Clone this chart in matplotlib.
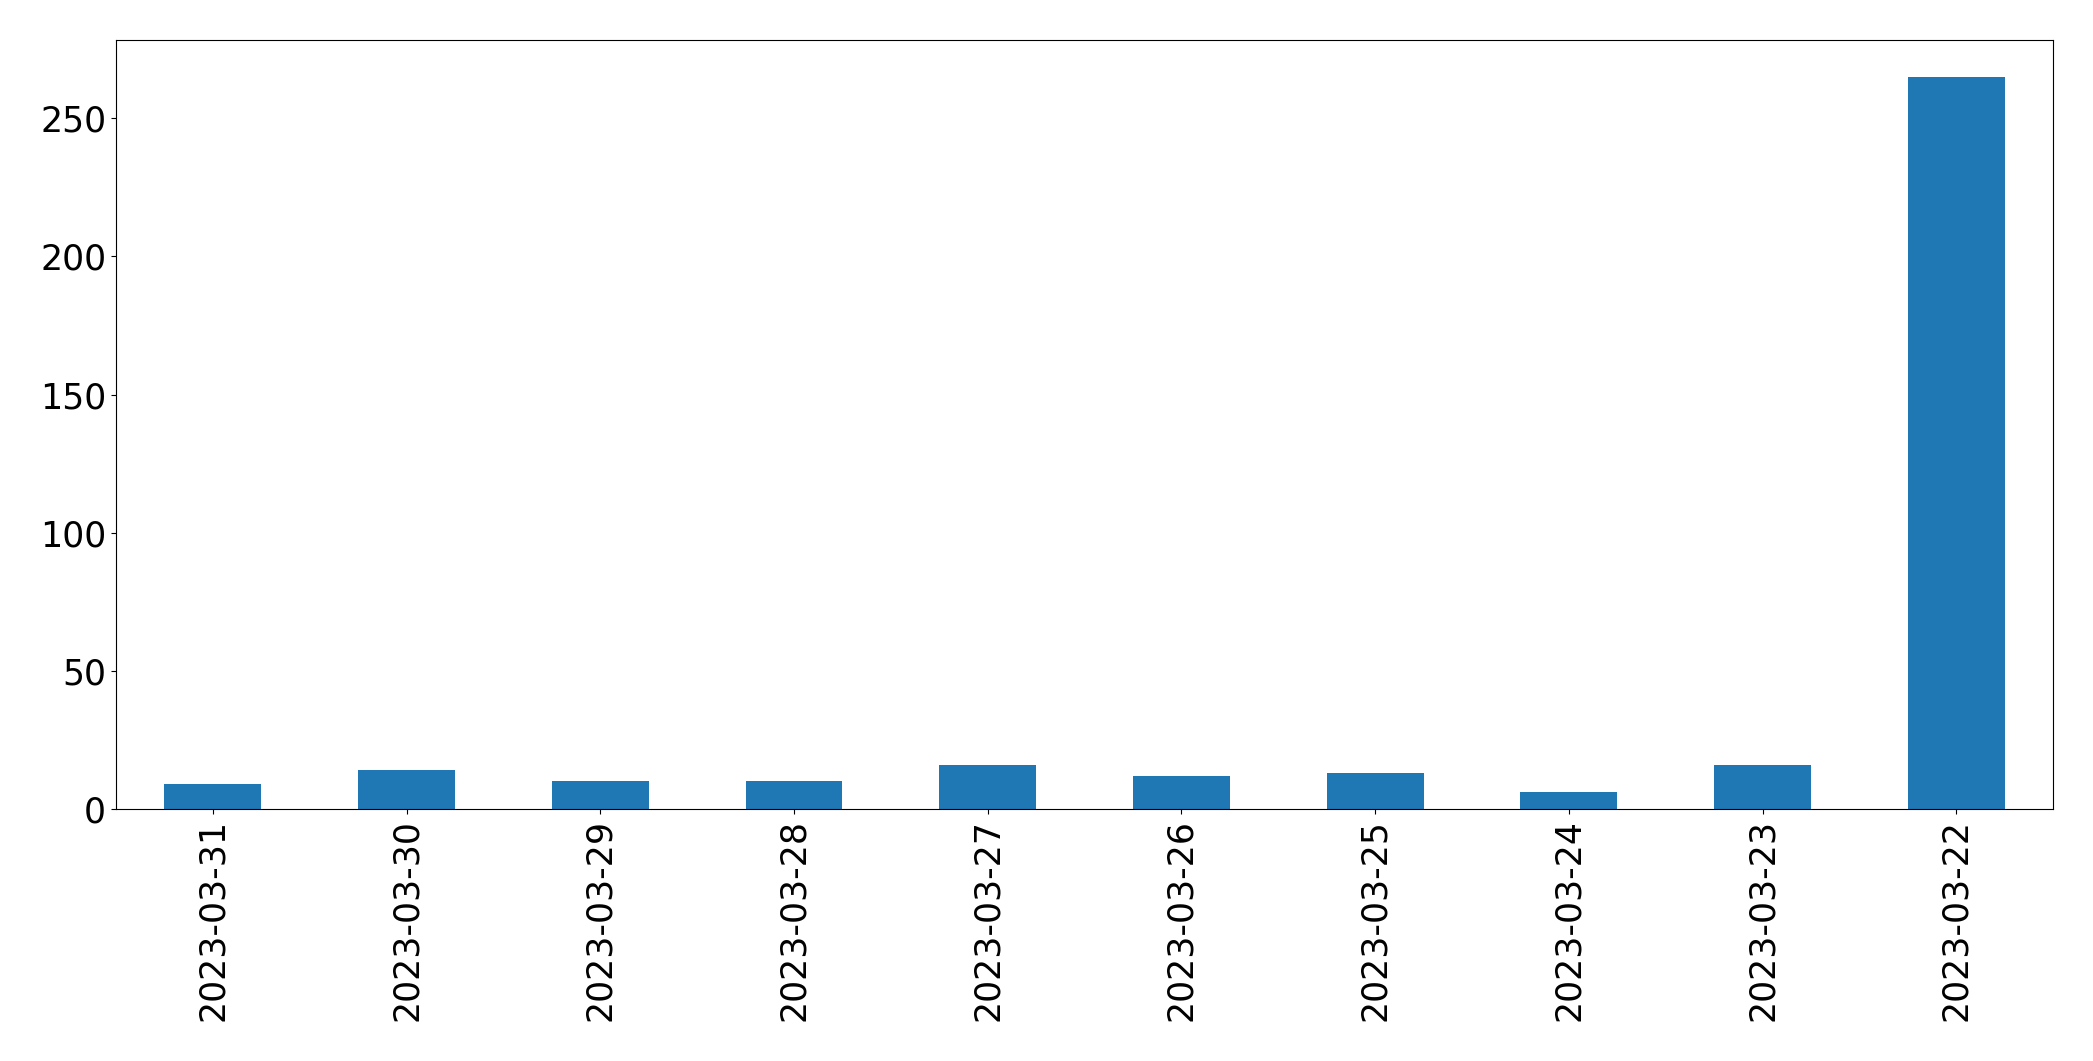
import numpy as np
import matplotlib
matplotlib.use("Agg")
import matplotlib.pyplot as plt

dates = ["2023-03-31", "2023-03-30", "2023-03-29", "2023-03-28", "2023-03-27",
         "2023-03-26", "2023-03-25", "2023-03-24", "2023-03-23", "2023-03-22"]
counts = [9, 14, 10, 10, 16, 12, 13, 6, 16, 265]

fig, ax = plt.subplots(figsize=(20.93, 10.61), dpi=100)
x = np.arange(len(dates))
ax.bar(x, counts, width=0.5, color="#1f77b4")
ax.set_xticks(x)
ax.set_xticklabels(dates, rotation=90)
ax.set_xlim(-0.5, len(dates) - 0.5)
ax.set_ylim(0, max(counts) * 1.05)
ax.tick_params(labelsize=25)

plt.subplots_adjust(left=0.0554, right=0.981, top=0.962, bottom=0.2375)
plt.savefig("out.png", dpi=100)
